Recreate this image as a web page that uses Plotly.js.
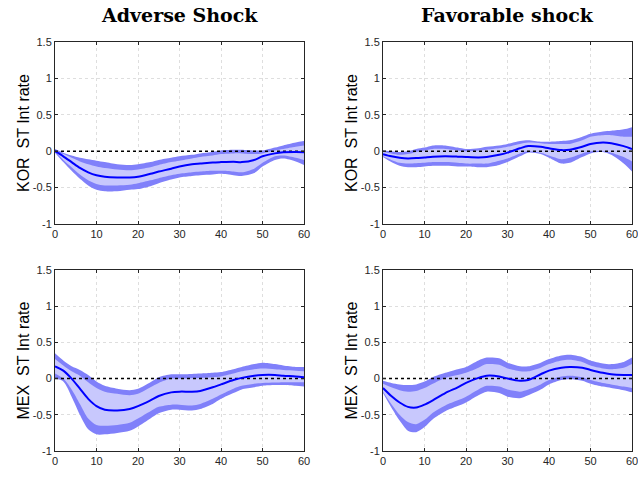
<!DOCTYPE html>
<html><head><meta charset="utf-8">
<script src="https://cdn.plot.ly/plotly-3.0.1.min.js"></script>
<style>html,body{margin:0;padding:0;background:#fff;}#c{width:638px;height:477px;}</style>
</head><body><div id="c"></div>
<script>
// Horizon grid
const horizon = [0,2,4,6,8,10,12,15,18,20,23,25,28,30,33,35,38,40,43,45,48,50,53,55,58,60];

// KOR, adverse shock
const korAdvMed = [0,-0.07,-0.15,-0.23,-0.29,-0.33,-0.35,-0.36,-0.36,-0.35,-0.31,-0.28,-0.24,-0.21,-0.18,-0.17,-0.155,-0.15,-0.145,-0.15,-0.12,-0.07,-0.03,-0.015,-0.01,-0.015];
const korAdvU90 = [0.03,-0.02,-0.06,-0.09,-0.11,-0.13,-0.15,-0.18,-0.19,-0.18,-0.15,-0.12,-0.09,-0.07,-0.05,-0.03,-0.01,0.01,0.02,0.02,0.01,0.01,0.05,0.08,0.12,0.14];
const korAdvU68 = [0.0,-0.04,-0.09,-0.14,-0.18,-0.21,-0.23,-0.25,-0.26,-0.25,-0.22,-0.19,-0.15,-0.13,-0.1,-0.08,-0.06,-0.04,-0.03,-0.03,-0.04,-0.03,0.01,0.03,0.06,0.08];
const korAdvL68 = [0.0,-0.12,-0.22,-0.32,-0.4,-0.45,-0.47,-0.47,-0.46,-0.44,-0.4,-0.37,-0.33,-0.31,-0.29,-0.28,-0.27,-0.27,-0.28,-0.29,-0.24,-0.16,-0.07,-0.06,-0.09,-0.12];
const korAdvL90 = [-0.02,-0.15,-0.27,-0.38,-0.47,-0.53,-0.55,-0.55,-0.53,-0.52,-0.48,-0.44,-0.39,-0.36,-0.34,-0.33,-0.32,-0.31,-0.33,-0.34,-0.3,-0.21,-0.12,-0.1,-0.14,-0.19];

// KOR, favorable shock
const korFavMed = [-0.04,-0.07,-0.09,-0.1,-0.095,-0.085,-0.075,-0.07,-0.075,-0.08,-0.085,-0.08,-0.05,-0.02,0.04,0.07,0.06,0.04,0.015,0.02,0.06,0.1,0.12,0.11,0.07,0.03];
const korFavU90 = [0.01,0.0,-0.01,0.0,0.03,0.05,0.08,0.08,0.05,0.03,0.04,0.06,0.08,0.1,0.14,0.15,0.13,0.13,0.14,0.15,0.2,0.24,0.27,0.28,0.3,0.33];
const korFavU68 = [-0.01,-0.03,-0.05,-0.04,-0.01,0.01,0.03,0.03,0.01,0.0,0.01,0.02,0.04,0.06,0.1,0.12,0.11,0.1,0.1,0.1,0.15,0.2,0.22,0.22,0.2,0.2];
const korFavL68 = [-0.07,-0.12,-0.16,-0.17,-0.165,-0.16,-0.15,-0.15,-0.16,-0.17,-0.17,-0.17,-0.13,-0.1,-0.03,0.0,-0.02,-0.06,-0.11,-0.09,-0.03,0.0,0.0,-0.02,-0.08,-0.14];
const korFavL90 = [-0.08,-0.15,-0.2,-0.22,-0.22,-0.21,-0.2,-0.2,-0.21,-0.21,-0.22,-0.22,-0.19,-0.15,-0.07,-0.02,-0.04,-0.09,-0.17,-0.16,-0.08,-0.03,-0.01,-0.05,-0.17,-0.28];

// MEX, adverse shock
const mexAdvMed = [0.17,0.11,0.0,-0.14,-0.28,-0.38,-0.43,-0.44,-0.42,-0.38,-0.3,-0.24,-0.19,-0.18,-0.18,-0.17,-0.12,-0.08,-0.02,0.01,0.04,0.05,0.05,0.04,0.03,0.02];
const mexAdvU90 = [0.35,0.25,0.17,0.12,0.05,-0.04,-0.1,-0.14,-0.16,-0.14,-0.05,0.02,0.06,0.06,0.065,0.07,0.08,0.09,0.13,0.16,0.2,0.22,0.2,0.18,0.16,0.16];
const mexAdvU68 = [0.27,0.18,0.1,0.04,-0.05,-0.13,-0.18,-0.21,-0.23,-0.21,-0.12,-0.06,0.0,0.0,0.005,0.01,0.02,0.03,0.07,0.1,0.13,0.14,0.13,0.12,0.11,0.1];
const mexAdvL68 = [0.07,0.0,-0.15,-0.35,-0.55,-0.64,-0.65,-0.64,-0.61,-0.55,-0.45,-0.39,-0.36,-0.36,-0.37,-0.35,-0.28,-0.22,-0.14,-0.1,-0.07,-0.06,-0.055,-0.05,-0.05,-0.05];
const mexAdvL90 = [0.0,-0.04,-0.25,-0.5,-0.7,-0.77,-0.77,-0.75,-0.72,-0.66,-0.55,-0.48,-0.43,-0.43,-0.44,-0.42,-0.35,-0.28,-0.2,-0.15,-0.12,-0.1,-0.09,-0.09,-0.1,-0.11];

// MEX, favorable shock
const mexFavMed = [-0.13,-0.24,-0.33,-0.39,-0.4,-0.36,-0.3,-0.2,-0.12,-0.06,0.01,0.04,0.03,0.0,-0.03,-0.02,0.06,0.11,0.15,0.16,0.15,0.12,0.08,0.06,0.05,0.05];
const mexFavU90 = [-0.03,-0.06,-0.08,-0.09,-0.08,-0.04,0.02,0.08,0.13,0.16,0.25,0.29,0.28,0.22,0.17,0.17,0.22,0.27,0.32,0.33,0.3,0.25,0.21,0.2,0.23,0.29];
const mexFavU68 = [-0.07,-0.12,-0.16,-0.18,-0.17,-0.13,-0.07,0.01,0.05,0.08,0.15,0.2,0.19,0.14,0.1,0.1,0.15,0.2,0.25,0.26,0.23,0.18,0.14,0.13,0.15,0.2];
const mexFavL68 = [-0.18,-0.35,-0.5,-0.6,-0.63,-0.57,-0.47,-0.37,-0.3,-0.25,-0.15,-0.1,-0.11,-0.15,-0.18,-0.15,-0.08,-0.02,0.03,0.04,0.02,-0.02,-0.06,-0.08,-0.11,-0.13];
const mexFavL90 = [-0.2,-0.4,-0.58,-0.72,-0.74,-0.67,-0.56,-0.45,-0.38,-0.33,-0.23,-0.18,-0.2,-0.25,-0.27,-0.23,-0.15,-0.08,-0.02,-0.01,-0.03,-0.07,-0.11,-0.13,-0.16,-0.19];

const colTitles = ["Adverse Shock", "Favorable shock"];
const rowLabels = ["KOR\u00a0\u00a0ST Int rate", "MEX\u00a0\u00a0ST Int rate"];
const yTicks = [-1, -0.5, 0, 0.5, 1, 1.5];
const xTicks = [0, 10, 20, 30, 40, 50, 60];

const panels = [
  {ax:"", med:korAdvMed, u90:korAdvU90, u68:korAdvU68, l68:korAdvL68, l90:korAdvL90},
  {ax:"2", med:korFavMed, u90:korFavU90, u68:korFavU68, l68:korFavL68, l90:korFavL90},
  {ax:"3", med:mexAdvMed, u90:mexAdvU90, u68:mexAdvU68, l68:mexAdvL68, l90:mexAdvL90},
  {ax:"4", med:mexFavMed, u90:mexFavU90, u68:mexFavU68, l68:mexFavL68, l90:mexFavL90}
];

const W = 638, H = 477;
const colX = [[55,304],[383,632]];
const rowY = [[42,224],[270,451]];
const outerCol = "#8080fa", innerCol = "#c8c8fd", medCol = "#0000ff";

const traces = [];
const layout = {
  width: W, height: H, margin:{l:0,r:0,t:0,b:0},
  paper_bgcolor:"#fff", plot_bgcolor:"#fff", showlegend:false,
  font:{family:"Liberation Sans, Arial, sans-serif", size:11, color:"#262626"},
  annotations:[], shapes:[]
};

panels.forEach((p, i) => {
  const xa = "x"+p.ax, ya = "y"+p.ax;
  const sp = {shape:"spline", smoothing:0.8};
  traces.push({x:horizon, y:p.l90, xaxis:xa, yaxis:ya, mode:"lines", line:Object.assign({width:0, color:outerCol}, sp), hoverinfo:"skip"});
  traces.push({x:horizon, y:p.u90, xaxis:xa, yaxis:ya, mode:"lines", fill:"tonexty", fillcolor:outerCol, line:Object.assign({width:0, color:outerCol}, sp), hoverinfo:"skip"});
  traces.push({x:horizon, y:p.l68, xaxis:xa, yaxis:ya, mode:"lines", line:Object.assign({width:0, color:innerCol}, sp), hoverinfo:"skip"});
  traces.push({x:horizon, y:p.u68, xaxis:xa, yaxis:ya, mode:"lines", fill:"tonexty", fillcolor:innerCol, line:Object.assign({width:0, color:innerCol}, sp), hoverinfo:"skip"});
  traces.push({x:[0,60], y:[0,0], xaxis:xa, yaxis:ya, mode:"lines", line:{color:"#000", width:1.5, dash:"dot"}, hoverinfo:"skip"});
  traces.push({x:horizon, y:p.med, xaxis:xa, yaxis:ya, mode:"lines", line:Object.assign({width:2, color:medCol}, sp)});

  const c = i % 2, r = Math.floor(i/2);
  const axCommon = {showline:true, mirror:"ticks", linecolor:"#262626", linewidth:1,
    ticks:"inside", ticklen:3, tickcolor:"#262626", showgrid:true, gridcolor:"#dedede", griddash:"dot", gridwidth:1,
    zeroline:false, ticklabeloverflow:"allow",
    tickfont:{family:"Liberation Sans, Arial, sans-serif", size:11, color:"#262626"}};
  layout["xaxis"+p.ax] = Object.assign({}, axCommon, {
    domain:[colX[c][0]/W, colX[c][1]/W], anchor:ya, range:[0,60], tickvals:xTicks, ticktext:xTicks.map(String)});
  layout["yaxis"+p.ax] = Object.assign({}, axCommon, {
    domain:[(H-rowY[r][1])/H, (H-rowY[r][0])/H], anchor:xa, range:[-1,1.5], tickvals:yTicks, ticktext:yTicks.map(String)});
  layout.annotations.push({xref:"paper", yref:"paper", x:(colX[c][0]-32)/W, y:(H-(rowY[r][0]+rowY[r][1])/2)/H,
    text:rowLabels[r], textangle:-90, showarrow:false, xanchor:"center", yanchor:"middle",
    font:{family:"Liberation Sans, Arial, sans-serif", size:16, color:"#000"}});
});

colTitles.forEach((t, c) => {
  layout.annotations.push({xref:"paper", yref:"paper", x:(colX[c][0]+colX[c][1])/2/W, y:(H-15)/H,
    text:"<b>"+t+"</b>", showarrow:false, xanchor:"center", yanchor:"middle",
    font:{family:"DejaVu Serif, Liberation Serif, serif", size:19, color:"#000"}});
});

Plotly.newPlot("c", traces, layout, {staticPlot:true, displayModeBar:false});
</script></body></html>
